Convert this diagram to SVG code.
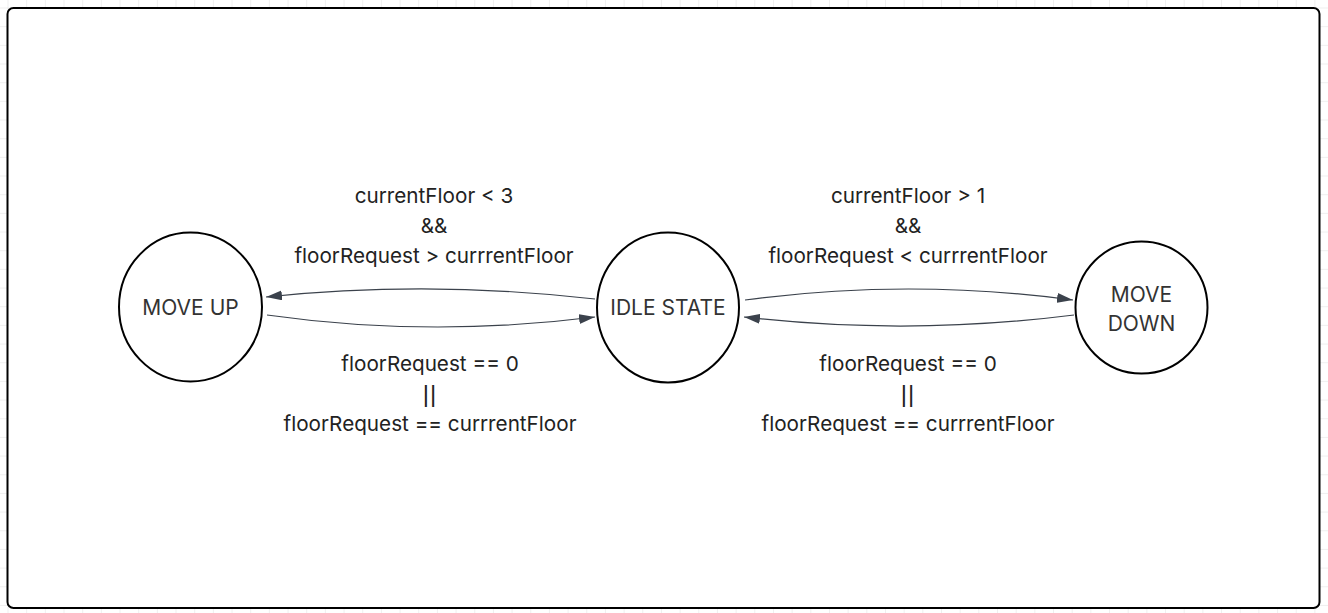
<svg xmlns="http://www.w3.org/2000/svg" width="1328" height="613" viewBox="0 0 1328 613">
<defs>
<pattern id="grid" x="7.5" y="7.5" width="18.67" height="18.67" patternUnits="userSpaceOnUse">
<path d="M 0 0 L 18.67 0 M 0 0 L 0 18.67" fill="none" stroke="#e0e0e0" stroke-width="1"/>
</pattern>
<marker id="arrow" viewBox="0 0 16 10" refX="16" refY="5" markerWidth="16" markerHeight="10" markerUnits="userSpaceOnUse" orient="auto">
<path d="M 0 0 L 16 5 L 0 10 z" fill="#3b424c"/>
</marker>
</defs>
<style>
.node ellipse { fill: #ffffff; stroke: #000000; stroke-width: 2; }
.node text { font-family: Inter, "Liberation Sans", sans-serif; font-size: 21px; fill: #333333; text-anchor: middle; }
.edge { fill: none; stroke: #3b424c; stroke-width: 1.2; marker-end: url(#arrow); }
.lbl { font-family: Inter, "Liberation Sans", sans-serif; font-size: 20.7px; fill: #222222; text-anchor: middle; }
.bars { font-family: "Liberation Sans", sans-serif; font-size: 24px; fill: #222222; text-anchor: middle; }
</style>
<rect x="0" y="0" width="1328" height="613" fill="#ffffff"/>
<rect x="0" y="0" width="1328" height="613" fill="url(#grid)"/>
<rect x="7.5" y="8" width="1312" height="600" rx="6" ry="6" fill="#ffffff" stroke="#000000" stroke-width="2"/>
<g id="connectors">
<path class="edge" d="M 595 299 Q 430 280 266 297"/>
<path class="edge" d="M 267 315 Q 430 338 595 317"/>
<path class="edge" d="M 745 300 Q 908 278 1073 300"/>
<path class="edge" d="M 1074 315 Q 908 336 744 317"/>
</g>
<g id="labels">
<text class="lbl" x="434" y="203">currentFloor &lt; 3</text>
<text class="lbl" x="434" y="233">&amp;&amp;</text>
<text class="lbl" x="434" y="263">floorRequest &gt; currrentFloor</text>
<text class="lbl" x="430" y="371">floorRequest == 0</text>
<text class="bars" x="430" y="402" letter-spacing="1">||</text>
<text class="lbl" x="430" y="431">floorRequest == currrentFloor</text>
<text class="lbl" x="908" y="203">currentFloor &gt; 1</text>
<text class="lbl" x="908" y="233">&amp;&amp;</text>
<text class="lbl" x="908" y="263">floorRequest &lt; currrentFloor</text>
<text class="lbl" x="908" y="371">floorRequest == 0</text>
<text class="bars" x="908" y="402" letter-spacing="1">||</text>
<text class="lbl" x="908" y="431">floorRequest == currrentFloor</text>
</g>
<g id="move-up" class="node">
<ellipse cx="190.5" cy="307" rx="71.5" ry="74.5"/>
<text x="190.5" y="315">MOVE UP</text>
</g>
<g id="idle-state" class="node">
<ellipse cx="668" cy="307.5" rx="71" ry="75"/>
<text x="668" y="315">IDLE STATE</text>
</g>
<g id="move-down" class="node">
<ellipse cx="1141.5" cy="307.5" rx="66" ry="66"/>
<text x="1141.5" y="302">MOVE</text>
<text x="1141.5" y="331">DOWN</text>
</g>
</svg>
